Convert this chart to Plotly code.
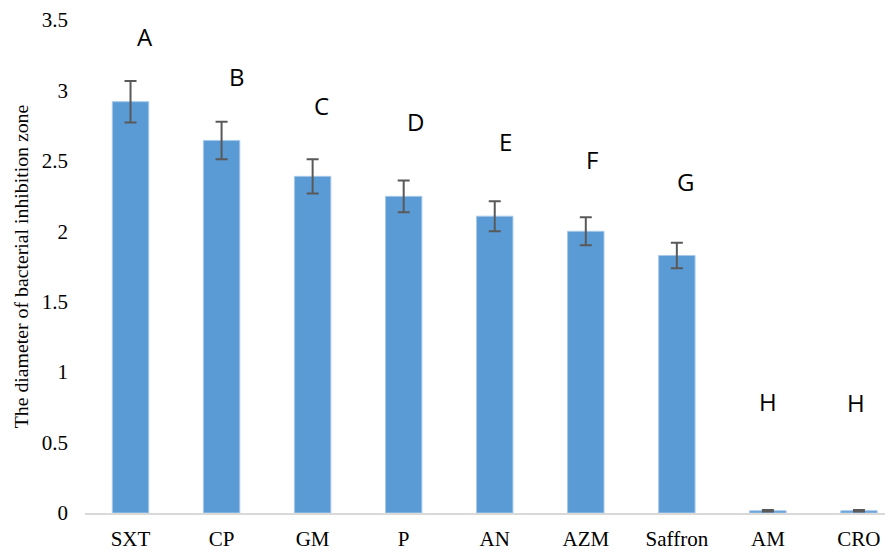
import plotly.graph_objects as go

categories = ["SXT", "CP", "GM", "P", "AN", "AZM", "Saffron", "AM", "CRO"]
values = [2.92, 2.645, 2.39, 2.248, 2.107, 2.0, 1.828, 0.016, 0.016]
errors = [0.147, 0.133, 0.121, 0.113, 0.107, 0.1, 0.091, 0.005, 0.005]
letters = ["A", "B", "C", "D", "E", "F", "G", "H", "H"]

# annotation placement (layout only)
letter_y = [3.38, 3.10, 2.89, 2.78, 2.635, 2.512, 2.352, 0.79, 0.781]
letter_dx = [0.16, 0.165, 0.10, 0.126, 0.115, 0.07, 0.09, 0.0, -0.03]

fig = go.Figure()
fig.add_trace(go.Bar(
    x=list(range(len(categories))),
    y=values,
    marker=dict(color="#5B9BD5", line=dict(color="#A7C8EA", width=1)),
    error_y=dict(type="data", array=errors, visible=True,
                 color="#595959", thickness=2, width=6),
    width=0.4,
))

for i, (lt, ly, dx) in enumerate(zip(letters, letter_y, letter_dx)):
    fig.add_annotation(x=i + dx, y=ly, text=lt, showarrow=False,
                       xanchor="center", yanchor="middle",
                       font=dict(family="Open Sans", size=24, color="black"))

# page body has an 8px default margin, so the figure is sized to fit the window
fig.update_layout(
    width=885, height=544,
    margin=dict(l=77, r=0, t=11.5, b=39, autoexpand=False),
    paper_bgcolor="white", plot_bgcolor="white",
    showlegend=False,
    font=dict(family="Liberation Serif", size=21, color="black"),
)
fig.update_xaxes(
    range=[-0.5, 8.374],
    tickmode="array",
    tickvals=list(range(len(categories))),
    ticktext=categories,
    showline=True, linecolor="#D9D9D9", linewidth=2,
    showgrid=False, ticks="", zeroline=False,
    ticklabelstandoff=6,
    tickfont=dict(family="Liberation Serif", size=21, color="black"),
)
fig.update_yaxes(
    range=[0, 3.5], dtick=0.5, tick0=0,
    showline=False, showgrid=False, zeroline=False, ticks="",
    ticklabelstandoff=16,
    tickfont=dict(family="Liberation Serif", size=21, color="black"),
    title=dict(text="The diameter of bacterial inhibition zone",
               font=dict(family="Liberation Serif", size=19.8, color="black"),
               standoff=7),
    automargin=False,
)

fig.write_html("out.html")
